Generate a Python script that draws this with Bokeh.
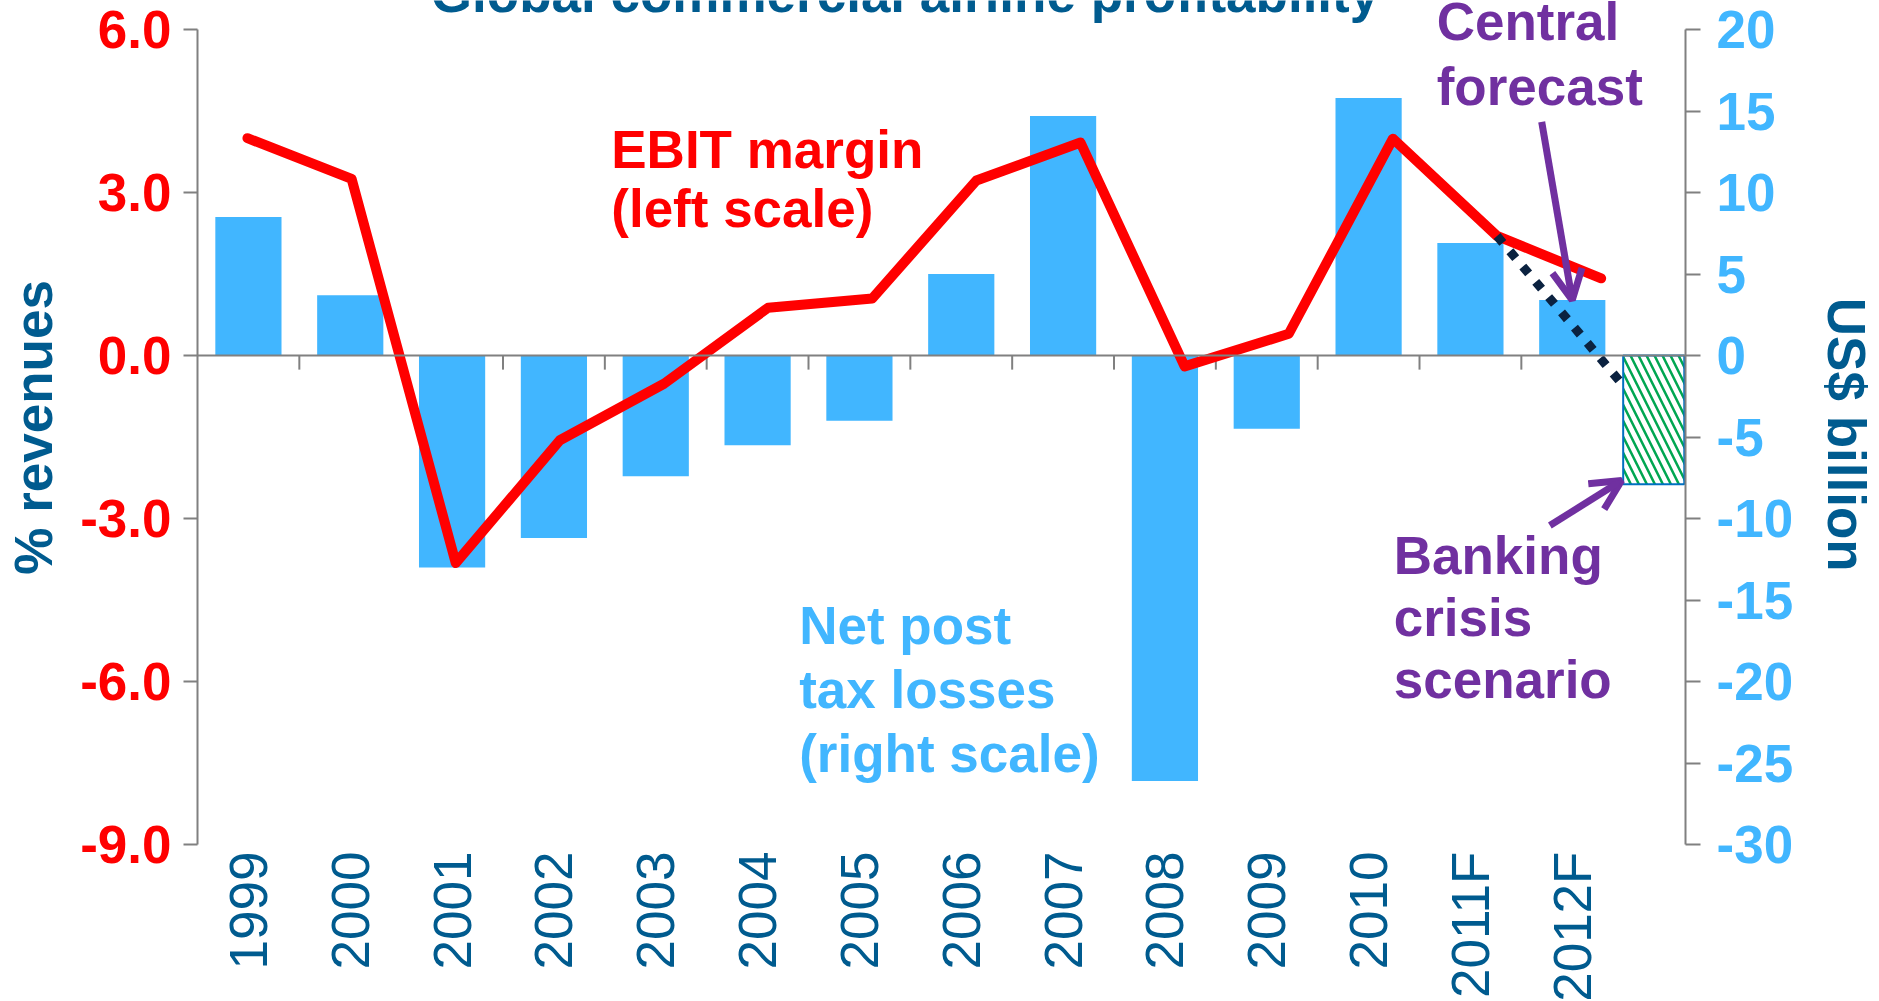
import math
from bokeh.plotting import figure
from bokeh.models import (Range1d, LinearAxis, FixedTicker, Span, Arrow,
                          OpenHead, ColumnDataSource)
from bokeh.core.properties import value
from bokeh.embed import file_html
from bokeh.resources import INLINE

# ---------------- data ----------------
categories = ["1999", "2000", "2001", "2002", "2003", "2004", "2005",
              "2006", "2007", "2008", "2009", "2010", "2011F", "2012F"]
ebit_margin = [4.0, 3.25, -3.82, -1.56, -0.52, 0.88, 1.05,
               3.22, 3.92, -0.2, 0.4, 3.99, 2.2, 1.42]          # % revenues (left)
net_profit = [8.5, 3.7, -13.0, -11.2, -7.4, -5.5, -4.0,
              5.0, 14.7, -26.1, -4.5, 15.8, 6.9, 3.4]           # US$ bn (right)
scenario_net_2012 = -7.9      # banking crisis scenario, US$ bn
scenario_ebit_2012 = -0.5     # banking crisis scenario, % revenues

left_ticks = [-9, -6, -3, 0, 3, 6]
left_tick_labels = ["-9.0", "-6.0", "-3.0", "0.0", "3.0", "6.0"]
right_ticks = [-30, -25, -20, -15, -10, -5, 0, 5, 10, 15, 20]
right_tick_labels = ["-30", "-25", "-20", "-15", "-10", "-5", "0", "5", "10", "15", "20"]

title_text = "Global commercial airline profitability"
left_axis_title = "% revenues"
right_axis_title = "US$ billion"
ann_lines = ["EBIT margin", "(left scale)",
             "Net post", "tax losses", "(right scale)",
             "Central", "forecast",
             "Banking", "crisis", "scenario"]

# ---------------- style ----------------
FONT = "Liberation Sans"
RED = "#FF0000"
LBLUE = "#41B6FF"
DBLUE = "#005B8F"
PURPLE = "#7030A0"
GREY = "#808080"
NAVY = "#0B2240"
GREEN = "#00A651"
OUTLINE = "#0070C0"
FS = "53px"
NBSP = "\u00a0"   # used to move the centred axis titles up, as in the original

n = len(categories)
bar_x = [i + 0.5 for i in range(n)]

p = figure(width=1879, height=1001, output_backend="svg", toolbar_location=None,
           x_range=Range1d(0, 14.612), y_range=Range1d(-11.890, 6.534),
           x_axis_location=None, y_axis_location="left",
           min_border_left=197, min_border_right=193,
           min_border_top=0, min_border_bottom=0)
p.extra_y_ranges = {"right": Range1d(-39.63, 21.78)}
p.extra_x_ranges = {"line": Range1d(0.02, 14.31)}
p.xgrid.visible = False
p.ygrid.visible = False
p.outline_line_color = None
p.background_fill_color = "white"
p.border_fill_color = "white"

# left axis
la = p.yaxis[0]
la.ticker = FixedTicker(ticks=left_ticks)
la.major_label_overrides = dict(zip(left_ticks, left_tick_labels))
la.bounds = (-9, 6)
la.axis_line_color = GREY
la.axis_line_width = 2
la.major_tick_line_color = GREY
la.major_tick_line_width = 2
la.major_tick_out = 14
la.major_tick_in = 0
la.minor_tick_line_color = None
la.major_label_standoff = 12
la.major_label_text_color = RED
la.major_label_text_font = FONT
la.major_label_text_font_style = "bold"
la.major_label_text_font_size = FS
la.axis_label = NBSP * 10 + left_axis_title
la.axis_label_standoff = 14
la.axis_label_text_line_height = 1.0
la.axis_label_text_color = DBLUE
la.axis_label_text_font = FONT
la.axis_label_text_font_style = "bold"
la.axis_label_text_font_size = FS

# right axis
ra = LinearAxis(y_range_name="right", ticker=FixedTicker(ticks=right_ticks),
                bounds=(-30, 20))
ra.major_label_overrides = dict(zip(right_ticks, right_tick_labels))
ra.axis_line_color = GREY
ra.axis_line_width = 2
ra.major_tick_line_color = GREY
ra.major_tick_line_width = 2
ra.major_tick_out = 15
ra.major_tick_in = 0
ra.minor_tick_line_color = None
ra.major_label_standoff = 16
ra.major_label_text_color = LBLUE
ra.major_label_text_font = FONT
ra.major_label_text_font_style = "bold"
ra.major_label_text_font_size = FS
ra.axis_label = right_axis_title + NBSP * 9
ra.axis_label_standoff = 21
ra.axis_label_text_line_height = 1.0
ra.axis_label_text_color = DBLUE
ra.axis_label_text_font = FONT
ra.axis_label_text_font_style = "bold"
ra.axis_label_text_font_size = FS
p.add_layout(ra, "right")

# zero line and category ticks
p.add_layout(Span(location=0, dimension="width", line_color=GREY, line_width=2))
boundaries = list(range(1, n))
p.segment(x0=boundaries, y0=[0] * len(boundaries), x1=boundaries,
          y1=[-0.26] * len(boundaries), line_color=GREY, line_width=2)

# bars
p.vbar(x=bar_x, top=net_profit, bottom=0, width=0.65, y_range_name="right",
       fill_color=LBLUE, line_color=None)

# banking crisis scenario bar
p.quad(left=[n], right=[14.60], top=[0], bottom=[scenario_net_2012],
       y_range_name="right", fill_color="white", line_color=OUTLINE, line_width=2,
       hatch_pattern="\\", hatch_color=GREEN, hatch_weight=2.5, hatch_scale=16)

# EBIT line
p.line(x=bar_x, y=ebit_margin, x_range_name="line", line_color=RED,
       line_width=10, line_join="round", line_cap="round")

# scenario dotted line
p.line(x=[bar_x[-2], 13.69], y=[ebit_margin[-2], scenario_ebit_2012],
       x_range_name="line", line_color=NAVY, line_width=9,
       line_dash="9 11", line_cap="butt")

# arrows
p.add_layout(Arrow(end=OpenHead(size=30, line_color=PURPLE, line_width=7),
                   x_start=13.2, y_start=14.33, x_end=bar_x[-1], y_end=net_profit[-1],
                   y_range_name="right", line_color=PURPLE, line_width=7))
p.add_layout(Arrow(end=OpenHead(size=30, line_color=PURPLE, line_width=7),
                   x_start=13.28, y_start=-10.43, x_end=13.985, y_end=-7.67,
                   y_range_name="right", line_color=PURPLE, line_width=7))

# annotation texts
ann = ColumnDataSource(dict(
    x=[4.063, 4.063, 5.908, 5.908, 5.908, 12.169, 12.169, 11.747, 11.747, 11.747],
    y=[3.792, 2.706, -4.969, -6.147, -7.325, 6.148, 4.951, -3.681, -4.822, -5.963],
    text=ann_lines,
    color=[RED, RED, LBLUE, LBLUE, LBLUE, PURPLE, PURPLE, PURPLE, PURPLE, PURPLE]))
p.text(x="x", y="y", text="text", source=ann, text_color="color",
       text_font=value(FONT), text_font_style="bold", text_font_size=FS,
       text_align="left", text_baseline="alphabetic")

# title (cut by the top edge as in the original)
p.text(x=[6.948], y=[6.663], text=[title_text], text_color=DBLUE,
       text_font=value(FONT), text_font_style="bold", text_font_size=FS,
       text_align="center", text_baseline="alphabetic")

# category labels (vertical)
p.text(x=bar_x, y=[-9.13] * n, text=categories, angle=math.pi / 2,
       text_color=DBLUE, text_font=value(FONT), text_font_size=FS,
       text_align="right", text_baseline="middle")

open("out.html", "w").write(file_html(p, INLINE))
